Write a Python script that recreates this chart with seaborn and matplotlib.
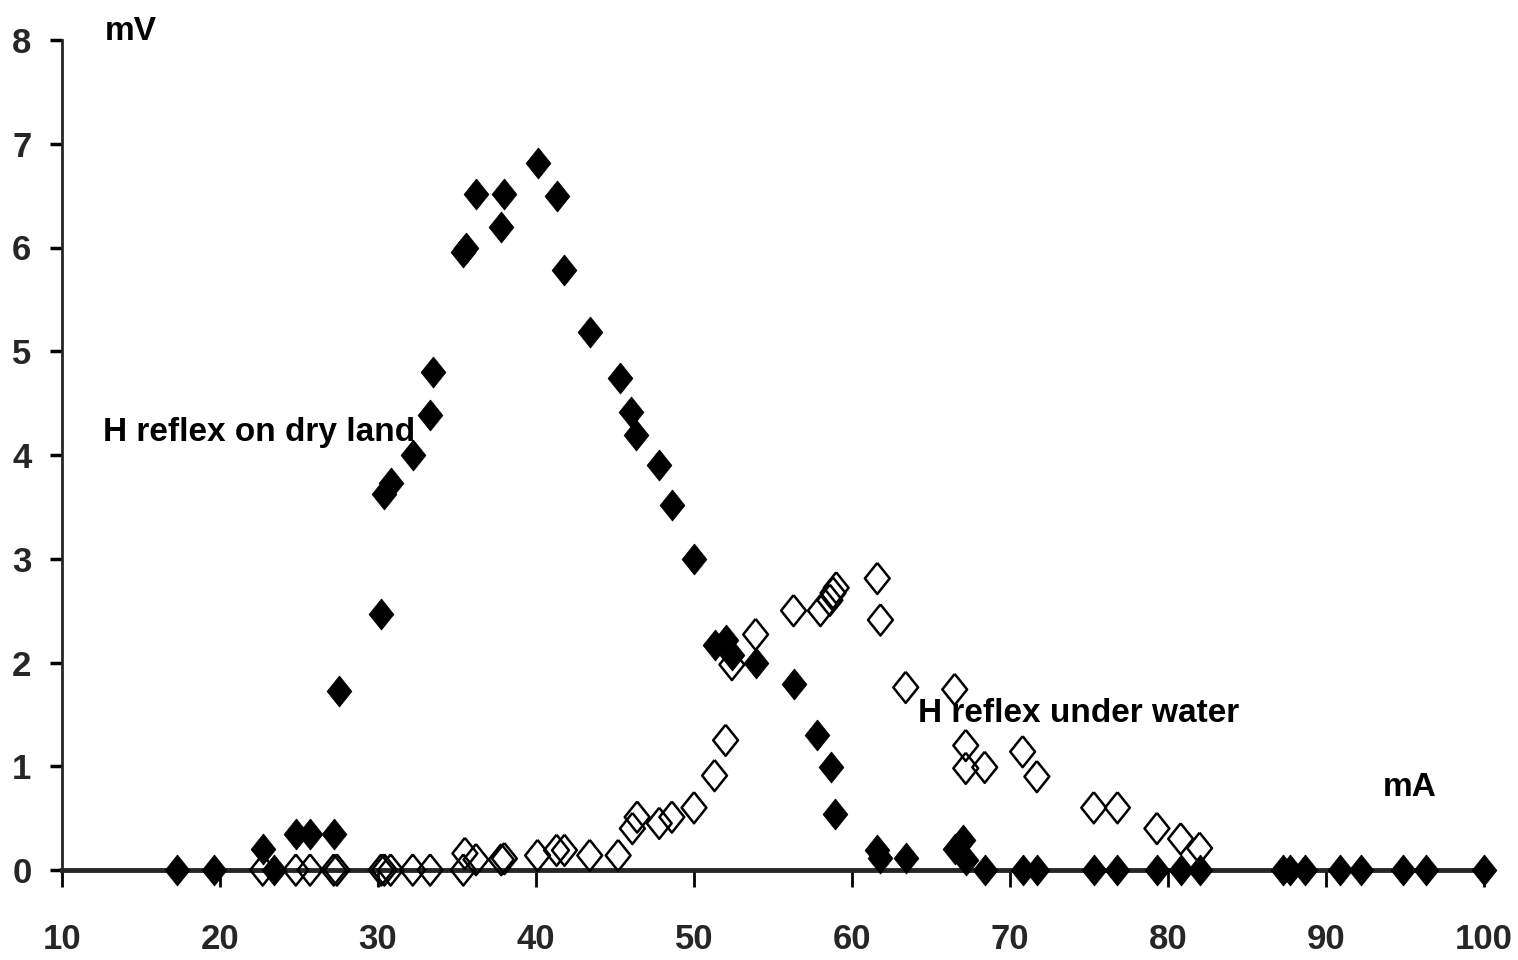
import matplotlib
matplotlib.use("Agg")
import matplotlib.pyplot as plt
import seaborn as sns
import pandas as pd

# ---- data ----
dry_x = [17.3, 19.6, 22.7, 23.4, 24.8, 25.7, 27.2, 27.5, 30.2, 30.4, 30.8, 32.2,
         33.3, 33.5, 35.4, 35.6, 36.2, 37.8, 38.0, 40.1, 41.3, 41.8, 43.4, 45.3,
         46.0, 46.3, 47.8, 48.6, 50.0, 51.3, 52.0, 52.4, 53.9, 56.3, 57.8, 58.7,
         58.9, 61.6, 61.8, 63.4, 66.5, 67.0, 67.2, 68.4, 70.8, 71.7, 75.3, 76.8,
         79.3, 80.8, 82.0, 87.3, 87.7, 88.7, 90.9, 92.2, 94.9, 96.3, 100.0]
dry_y = [0, 0, 0.2, 0, 0.35, 0.35, 0.35, 1.73, 2.47, 3.62, 3.73, 4.0,
         4.39, 4.8, 5.96, 6.0, 6.52, 6.2, 6.52, 6.81, 6.5, 5.78, 5.19, 4.74,
         4.41, 4.19, 3.9, 3.52, 3.0, 2.17, 2.22, 2.07, 2.0, 1.79, 1.3, 0.99,
         0.54, 0.19, 0.12, 0.12, 0.2, 0.29, 0.1, 0, 0, 0, 0, 0,
         0, 0, 0, 0, 0, 0, 0, 0, 0, 0, 0]

water_x = [22.7, 24.8, 25.7, 27.2, 27.4, 30.2, 30.4, 30.8, 32.2, 33.3, 35.4, 35.5,
           36.2, 37.8, 38.0, 40.1, 41.3, 41.8, 43.4, 45.2, 46.1, 46.4, 47.8, 48.6,
           50.0, 51.3, 52.0, 52.4, 53.9, 56.3, 58.0, 58.6, 58.8, 59.0, 61.6, 61.8,
           63.4, 66.5, 67.2, 67.2, 68.4, 70.8, 71.7, 75.3, 76.8, 79.3, 80.8, 82.0]
water_y = [0, 0, 0, 0, 0, 0, 0, 0, 0, 0, 0, 0.16,
           0.1, 0.1, 0.11, 0.14, 0.19, 0.19, 0.14, 0.14, 0.4, 0.51, 0.45, 0.51,
           0.6, 0.91, 1.25, 1.98, 2.27, 2.5, 2.5, 2.6, 2.67, 2.72, 2.81, 2.41,
           1.76, 1.74, 1.2, 0.98, 0.99, 1.14, 0.9, 0.6, 0.6, 0.4, 0.3, 0.21]

x_ticks = [10, 20, 30, 40, 50, 60, 70, 80, 90, 100]
y_ticks = [0, 1, 2, 3, 4, 5, 6, 7, 8]

labels = ["mV", "mA", "H reflex on dry land", "H reflex under water"]

# ---- style ----
sns.set_style("white")
FONT = ["Liberation Sans", "DejaVu Sans"]
plt.rcParams["font.family"] = FONT
plt.rcParams["font.weight"] = "bold"

fig = plt.figure(figsize=(15.18, 9.6), dpi=100)
ax = fig.add_axes([62 / 1518, 90 / 960, (1484 - 62) / 1518, (870 - 40) / 960])

diamond = [(0, 1), (0.8, 0), (0, -1), (-0.8, 0), (0, 1)]

dry = pd.DataFrame({"mA": dry_x, "mV": dry_y})
water = pd.DataFrame({"mA": water_x, "mV": water_y})

sns.scatterplot(data=water, x="mA", y="mV", ax=ax, marker=diamond, s=500,
                facecolor="none", edgecolor="black", linewidth=1.8, zorder=3)
sns.scatterplot(data=dry, x="mA", y="mV", ax=ax, marker=diamond, s=500,
                color="black", edgecolor="black", linewidth=0.5, zorder=4)
for c in ax.collections:
    c.set_clip_on(False)

ax.set_xlim(10, 100)
ax.set_ylim(0, 8)
ax.set_xticks(x_ticks)
ax.set_yticks(y_ticks)
ax.set_xlabel("")
ax.set_ylabel("")

for s in ["top", "right"]:
    ax.spines[s].set_visible(False)
ax.spines["left"].set_linewidth(2.0)
ax.spines["bottom"].set_linewidth(3.5)
ax.spines["left"].set_zorder(2)
ax.spines["bottom"].set_zorder(2)

ax.tick_params(axis="x", direction="out", length=12, width=2, pad=26,
               labelsize=25, color="black", bottom=True)
ax.tick_params(axis="y", direction="out", length=9, width=2.5, pad=13,
               labelsize=25, color="black", left=True)
for lab in ax.get_xticklabels() + ax.get_yticklabels():
    lab.set_fontweight("bold")
    lab.set_family(FONT)

tk = dict(fontsize=24, fontweight="bold", family=FONT, color="black")
ax.text(12.7, 8.08, labels[0], ha="left", va="center", **tk)
ax.text(93.6, 0.8, labels[1], ha="left", va="center", **tk)
ax.text(12.6, 4.22, labels[2], ha="left", va="center", **tk)
ax.text(64.2, 1.51, labels[3], ha="left", va="center", **tk)

fig.savefig("out.png", dpi=100, facecolor="white")
